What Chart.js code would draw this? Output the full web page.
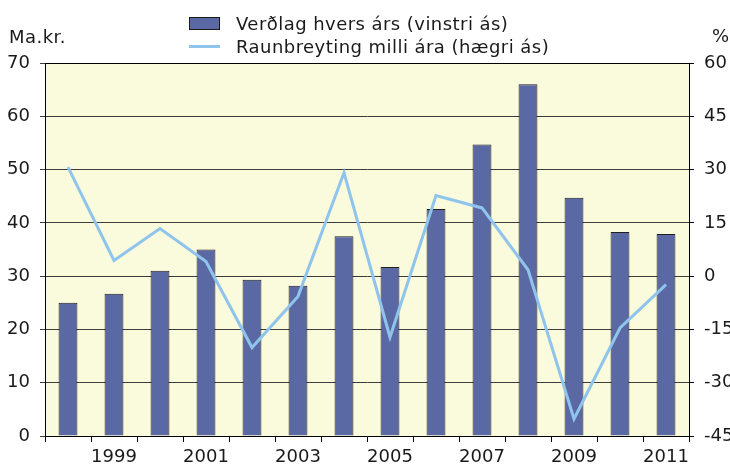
<!DOCTYPE html>
<html>
<head>
<meta charset="utf-8">
<script src="https://cdn.jsdelivr.net/npm/chart.js@4/dist/chart.umd.min.js"></script>
<style>
  body { margin: 0; background: #fff; font-family: "DejaVu Sans", Verdana, sans-serif; }
  #wrap { position: relative; width: 730px; height: 467px; overflow: hidden; }
  .lbl { position: absolute; font-size: 18px; letter-spacing: 0.45px; color: #1a1a1a; white-space: nowrap; line-height: 1; }
  .swatch { position: absolute; }
</style>
</head>
<body>
<div id="wrap">
  <canvas id="chart"></canvas>
  <div class="swatch" style="left:189px;top:17px;width:29px;height:11px;background:#5a69a3;border:1px solid #1a1a1a;"></div>
  <div class="lbl" style="left:236px;top:15px;">Verðlag hvers árs (vinstri ás)</div>
  <div class="swatch" style="left:189px;top:45px;width:31px;height:3px;background:#8fc4ec;"></div>
  <div class="lbl" style="left:236px;top:38px;">Raunbreyting milli ára (hægri ás)</div>
  <div class="lbl" style="left:9px;top:28px;">Ma.kr.</div>
  <div class="lbl" style="left:712px;top:27px;">%</div>
</div>
<script>
const years = ["1998", "1999", "2000", "2001", "2002", "2003", "2004", "2005", "2006", "2007", "2008", "2009", "2010", "2011"];
// billions ISK, current prices (left axis)
const priceLevel = [25.0, 26.7, 31.0, 35.0, 29.3, 28.2, 37.5, 31.7, 42.6, 54.7, 66.0, 44.7, 38.3, 37.9];
// real change between years, % (right axis)
const realChange = [30.7, 4.4, 13.4, 4.1, -20.1, -5.7, 29.1, -17.2, 22.7, 19.2, 1.8, -40.2, -14.6, -2.4];
const leftTicks = { min: 0, max: 70, step: 10 };
const rightTicks = { min: -45, max: 60, step: 15 };

const tickFont = { family: "DejaVu Sans", size: 18 };

const plotBg = {
  id: "plotBg",
  beforeDraw(chart) {
    const { ctx, chartArea: a } = chart;
    ctx.save();
    ctx.fillStyle = "#fafadc";
    ctx.fillRect(a.left, a.top, a.right - a.left, a.bottom - a.top);
    ctx.restore();
  },
  afterDraw(chart) {
    const { ctx, chartArea: a } = chart;
    ctx.save();
    ctx.strokeStyle = "#000";
    ctx.lineWidth = 1;
    ctx.beginPath();
    ctx.moveTo(a.left, a.top + 0.5);
    ctx.lineTo(a.right, a.top + 0.5);
    ctx.stroke();
    ctx.restore();
  }
};

new Chart(document.getElementById("chart"), {
  type: "bar",
  data: {
    labels: years,
    datasets: [
      {
        type: "line",
        label: "Raunbreyting milli ára (hægri ás)",
        data: realChange,
        yAxisID: "y1",
        borderColor: "#8fc4ec",
        borderWidth: 3,
        pointRadius: 0,
        tension: 0,
        order: 1
      },
      {
        label: "Verðlag hvers árs (vinstri ás)",
        data: priceLevel,
        yAxisID: "y",
        backgroundColor: "#5a69a3",
        borderColor: "#1f1f1f",
        borderWidth: 1,
        categoryPercentage: 1,
        barPercentage: 0.41,
        order: 2
      }
    ]
  },
  options: {
    responsive: true,
    maintainAspectRatio: false,
    animation: false,
    layout: { padding: { top: 63, left: 0, right: 0, bottom: 0 } },
    plugins: { legend: { display: false }, tooltip: { enabled: false } },
    scales: {
      x: {
        offset: true,
        grid: { offset: true, drawOnChartArea: false, color: "#000", tickLength: 6 },
        border: { color: "#000" },
        ticks: {
          autoSkip: false,
          maxRotation: 0,
          padding: 5,
          color: "#1a1a1a",
          font: tickFont,
          callback: function (value) {
            const y = this.getLabelForValue(value);
            return Number(y) % 2 === 1 ? y : "";
          }
        },
        afterFit(scale) { scale.height = 31; }
      },
      y: {
        position: "left",
        min: leftTicks.min,
        max: leftTicks.max,
        ticks: { stepSize: leftTicks.step, padding: 10, color: "#1a1a1a", font: tickFont },
        grid: { color: "#3c3c3c", tickLength: 5 },
        border: { color: "#000" },
        afterFit(scale) { scale.width = 45; }
      },
      y1: {
        position: "right",
        min: rightTicks.min,
        max: rightTicks.max,
        ticks: { stepSize: rightTicks.step, padding: 10, color: "#1a1a1a", font: tickFont },
        grid: { drawOnChartArea: false, color: "#000", tickLength: 5 },
        border: { color: "#000" },
        afterFit(scale) { scale.width = 41; }
      }
    }
  },
  plugins: [plotBg]
});
</script>
</body>
</html>
